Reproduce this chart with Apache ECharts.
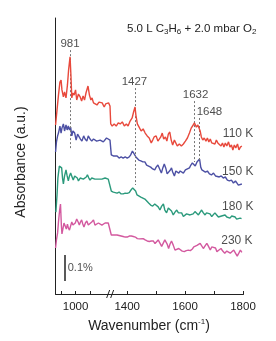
<!DOCTYPE html>
<html><head><meta charset="utf-8">
<script src="https://cdn.jsdelivr.net/npm/echarts@6/dist/echarts.min.js"></script>
<style>html,body{margin:0;padding:0;background:#fff}#c{width:276px;height:341px}</style>
</head><body><div id="c"></div>
<script>
// Wavenumber (cm-1), absorbance (%, offset-stacked)
const spec110K = [[931,0.650],[936,0.708],[941,0.765],[946,0.815],[950,0.823],[953,0.785],[958,0.758],[962,0.777],[967,0.754],[972,0.804],[976,0.862],[981,0.912],[984,0.842],[987,0.754],[991,0.773],[995,0.765],[1000,0.785],[1004,0.746],[1010,0.769],[1016,0.758],[1021,0.742],[1026,0.762],[1031,0.746],[1036,0.773],[1043,0.800],[1048,0.765],[1053,0.746],[1057,0.754],[1062,0.735],[1067,0.742],[1074,0.727],[1081,0.738],[1087,0.731],[1092,0.735],[1099,0.719],[1104,0.731],[1109,0.727],[1114,0.735],[1119,0.723],
[1343,0.654],[1348,0.646],[1355,0.654],[1362,0.646],[1369,0.658],[1376,0.654],[1383,0.662],[1390,0.646],[1397,0.654],[1403,0.646],[1410,0.665],[1417,0.677],[1422,0.700],[1427,0.719],[1430,0.688],[1435,0.654],[1441,0.642],[1448,0.627],[1455,0.635],[1462,0.619],[1469,0.608],[1476,0.600],[1483,0.581],[1488,0.592],[1493,0.604],[1500,0.608],[1506,0.588],[1511,0.581],[1516,0.604],[1521,0.619],[1526,0.596],[1532,0.604],[1537,0.588],[1542,0.615],[1547,0.623],[1552,0.592],[1557,0.573],[1563,0.592],[1568,0.585],[1573,0.569],[1580,0.577],[1587,0.569],[1594,0.577],[1601,0.588],[1608,0.600],[1615,0.619],[1621,0.638],[1628,0.650],[1632,0.658],[1639,0.642],[1644,0.650],[1648,0.654],[1652,0.627],[1656,0.604],[1661,0.592],[1666,0.600],[1672,0.588],[1677,0.600],[1682,0.585],[1687,0.596],[1692,0.581],[1698,0.588],[1703,0.577],[1708,0.592],[1713,0.581],[1718,0.588],[1724,0.569],[1729,0.581],[1734,0.565],[1739,0.581],[1744,0.569],[1750,0.585],[1755,0.565],[1760,0.573],[1765,0.554],[1770,0.573],[1775,0.562],[1781,0.577],[1786,0.554],[1791,0.565],[1796,0.569]];
const spec150K = [[931,0.546],[934,0.585],[938,0.608],[941,0.619],[946,0.646],[950,0.619],[953,0.638],[958,0.654],[962,0.627],[967,0.650],[971,0.631],[975,0.646],[979,0.631],[983,0.642],[987,0.608],[991,0.627],[997,0.619],[1002,0.592],[1007,0.615],[1012,0.619],[1017,0.596],[1022,0.588],[1028,0.608],[1033,0.596],[1039,0.588],[1044,0.608],[1050,0.596],[1056,0.588],[1062,0.596],[1067,0.600],[1073,0.588],[1079,0.585],[1085,0.592],[1091,0.592],[1096,0.585],[1102,0.588],[1107,0.600],[1112,0.604],[1119,0.592],
[1345,0.535],[1352,0.531],[1358,0.527],[1365,0.531],[1372,0.523],[1379,0.527],[1386,0.523],[1393,0.527],[1400,0.523],[1407,0.527],[1412,0.535],[1418,0.550],[1424,0.554],[1430,0.527],[1434,0.523],[1440,0.515],[1447,0.512],[1454,0.508],[1461,0.508],[1467,0.496],[1474,0.492],[1481,0.488],[1488,0.481],[1495,0.477],[1500,0.488],[1506,0.496],[1512,0.481],[1518,0.465],[1523,0.485],[1528,0.500],[1533,0.485],[1538,0.462],[1544,0.465],[1549,0.477],[1553,0.485],[1557,0.469],[1563,0.454],[1568,0.473],[1573,0.477],[1578,0.465],[1583,0.473],[1589,0.469],[1594,0.465],[1601,0.477],[1608,0.481],[1615,0.485],[1620,0.496],[1625,0.504],[1630,0.500],[1635,0.492],[1641,0.508],[1646,0.515],[1650,0.519],[1654,0.488],[1658,0.477],[1663,0.477],[1670,0.469],[1677,0.473],[1684,0.462],[1691,0.458],[1698,0.465],[1705,0.454],[1711,0.458],[1718,0.450],[1725,0.454],[1732,0.446],[1739,0.450],[1746,0.438],[1753,0.435],[1760,0.438],[1767,0.427],[1774,0.435],[1779,0.435],[1784,0.419],[1790,0.415],[1796,0.423]];
const spec180K = [[932,0.315],[936,0.381],[939,0.446],[944,0.492],[948,0.496],[952,0.485],[955,0.446],[958,0.423],[962,0.454],[967,0.477],[971,0.454],[975,0.435],[979,0.454],[983,0.465],[988,0.450],[992,0.438],[997,0.454],[1002,0.458],[1006,0.446],[1010,0.435],[1016,0.446],[1021,0.450],[1027,0.442],[1033,0.438],[1037,0.450],[1041,0.458],[1046,0.446],[1050,0.438],[1056,0.446],[1062,0.450],[1067,0.442],[1073,0.438],[1079,0.442],[1085,0.446],[1091,0.442],[1096,0.438],[1102,0.446],[1108,0.448],[1113,0.442],[1119,0.444],
[1345,0.396],[1352,0.392],[1358,0.394],[1365,0.388],[1372,0.392],[1379,0.385],[1386,0.385],[1393,0.388],[1400,0.387],[1407,0.390],[1413,0.400],[1419,0.408],[1424,0.415],[1429,0.396],[1434,0.381],[1440,0.377],[1447,0.373],[1454,0.369],[1461,0.365],[1467,0.358],[1474,0.350],[1481,0.342],[1488,0.338],[1495,0.346],[1501,0.350],[1507,0.335],[1513,0.323],[1519,0.338],[1525,0.346],[1530,0.323],[1536,0.312],[1542,0.331],[1548,0.338],[1553,0.319],[1559,0.304],[1565,0.315],[1571,0.323],[1577,0.312],[1582,0.308],[1588,0.312],[1594,0.298],[1600,0.304],[1605,0.308],[1611,0.312],[1617,0.304],[1622,0.298],[1628,0.308],[1634,0.317],[1640,0.312],[1646,0.304],[1652,0.315],[1657,0.323],[1663,0.312],[1669,0.304],[1674,0.312],[1680,0.317],[1686,0.308],[1692,0.298],[1698,0.304],[1703,0.312],[1709,0.304],[1715,0.296],[1721,0.292],[1726,0.300],[1732,0.296],[1738,0.304],[1744,0.296],[1749,0.292],[1755,0.292],[1761,0.300],[1767,0.296],[1773,0.296],[1778,0.288],[1784,0.285],[1790,0.292],[1795,0.290]];
const spec230K = [[931,0.177],[934,0.208],[938,0.235],[941,0.277],[945,0.323],[948,0.346],[951,0.265],[953,0.231],[957,0.254],[960,0.273],[964,0.262],[968,0.250],[972,0.269],[975,0.254],[979,0.246],[983,0.262],[987,0.277],[991,0.265],[995,0.258],[999,0.273],[1004,0.288],[1009,0.277],[1013,0.265],[1017,0.277],[1021,0.285],[1025,0.269],[1029,0.258],[1034,0.273],[1039,0.281],[1044,0.265],[1050,0.262],[1056,0.277],[1062,0.285],[1067,0.265],[1073,0.262],[1079,0.273],[1085,0.273],[1091,0.265],[1096,0.262],[1102,0.273],[1108,0.279],[1113,0.273],[1119,0.269],
[1345,0.227],[1352,0.227],[1358,0.223],[1365,0.227],[1372,0.225],[1379,0.223],[1386,0.221],[1393,0.219],[1400,0.219],[1407,0.223],[1414,0.223],[1421,0.221],[1428,0.219],[1435,0.213],[1442,0.212],[1448,0.212],[1455,0.213],[1462,0.208],[1469,0.204],[1476,0.202],[1483,0.204],[1490,0.204],[1496,0.194],[1502,0.190],[1507,0.208],[1512,0.204],[1519,0.183],[1525,0.188],[1530,0.208],[1535,0.212],[1538,0.192],[1543,0.175],[1548,0.192],[1553,0.204],[1559,0.188],[1565,0.169],[1571,0.173],[1578,0.175],[1583,0.169],[1590,0.165],[1597,0.163],[1604,0.167],[1611,0.169],[1618,0.167],[1625,0.173],[1630,0.181],[1635,0.177],[1641,0.187],[1646,0.185],[1652,0.195],[1658,0.188],[1663,0.175],[1669,0.185],[1675,0.195],[1680,0.185],[1687,0.169],[1692,0.181],[1698,0.188],[1705,0.177],[1710,0.163],[1717,0.169],[1724,0.175],[1730,0.165],[1737,0.157],[1744,0.165],[1750,0.169],[1756,0.157],[1762,0.160],[1768,0.169],[1774,0.162],[1780,0.146],[1786,0.158],[1791,0.169],[1796,0.160]];

const peakLines = [[981,0.938,0.554],[1427,0.792,0.419],[1632,0.742,0.508],[1648,0.677,0.508]];
const peakLabels = [[981,0.964,'981'],[1425,0.817,'1427'],[1636,0.767,'1632'],[1684,0.699,'1648']];
const tempLabels = [[1783,0.618,'110 K'],[1782,0.470,'150 K'],[1782,0.336,'180 K'],[1779,0.205,'230 K']];
const scaleBar = [964, 0.05, 0.15, '0.1%'];
const tickValues = [950,1000,1050,1400,1500,1600,1700,1800];
const labelValues = [1000,1400,1600,1800];
const xBreak = {start:1119.5, end:1341, gap:0};

const FONT = 'Liberation Sans, Arial, sans-serif';
const colors = ['#e8493c','#4c50a4','#2b9a7c','#d3599f'];
const chart = echarts.init(document.getElementById('c'), null, {renderer:'canvas'});

const mkLine = (data, c, i) => ({
  type:'line', data, showSymbol:false, symbol:'none', animation:false, silent:true,
  lineStyle:{color:c, width:1.4}, z: 5 - i
});
const series = [spec110K, spec150K, spec180K, spec230K].map((d,i)=>mkLine(d, colors[i], i));
series[0].markLine = {
  silent:true, symbol:['none','none'], animation:false, label:{show:false},
  lineStyle:{type:[2,2], color:'#777', width:1},
  data: peakLines.map(p=>[{coord:[p[0],p[1]]},{coord:[p[0],p[2]]}]).concat([
    [{coord:[scaleBar[0],scaleBar[1]], lineStyle:{type:'solid', color:'#222', width:1.5}},{coord:[scaleBar[0],scaleBar[2]]}]
  ])
};
series.push({
  type:'scatter', symbolSize:0, silent:true, animation:false, clip:false,
  data: peakLabels,
  label:{show:true, position:'inside', formatter:p=>p.value[2], color:'#222', fontSize:11.5, fontFamily:FONT}
});
series.push({
  type:'scatter', symbolSize:0, silent:true, animation:false, clip:false,
  data: tempLabels,
  label:{show:true, position:'inside', formatter:p=>p.value[2], color:'#222', fontSize:12, fontFamily:FONT}
});
series.push({
  type:'scatter', symbolSize:0, silent:true, animation:false, clip:false,
  data: [[scaleBar[0]+9, (scaleBar[1]+scaleBar[2])/2, scaleBar[3]]],
  label:{show:true, position:'inside', align:'left', formatter:p=>p.value[2], color:'#222', fontSize:11, fontFamily:FONT}
});

chart.setOption({
  animation:false,
  backgroundColor:'#fff',
  textStyle:{fontFamily:FONT},
  title:{
    text:'5.0 L C{s|3}H{s|6} + 2.0 mbar O{s|2}', left:122, top:17,
    textStyle:{fontSize:11.5, fontWeight:'normal', color:'#222', fontFamily:FONT, lineHeight:14,
      rich:{s:{fontSize:8, lineHeight:8, verticalAlign:'bottom', color:'#222', fontFamily:FONT}}}
  },
  grid:{left:55, right:33, top:18, bottom:47},
  xAxis:{
    type:'value', min:929, max:1800,
    breaks:[xBreak],
    breakArea:{show:false},
    name:'Wavenumber (cm{sup|-1})', nameLocation:'middle', nameGap:24,
    nameTextStyle:{fontSize:14, color:'#222', fontFamily:FONT, lineHeight:16,
      rich:{sup:{fontSize:8, lineHeight:8, verticalAlign:'top', color:'#222', fontFamily:FONT}}},
    axisLine:{show:true, lineStyle:{color:'#222', width:1}},
    axisTick:{show:true, inside:true, length:3, lineStyle:{color:'#222'}, customValues:tickValues},
    axisLabel:{show:true, color:'#222', fontSize:11.5, margin:7, fontFamily:FONT, customValues:labelValues,
      formatter:v=>String(Math.round(v))},
    splitLine:{show:false}
  },
  yAxis:{
    type:'value', min:0, max:1.0615,
    axisLine:{show:true, lineStyle:{color:'#222', width:1}},
    axisTick:{show:false}, axisLabel:{show:false}, splitLine:{show:false}
  },
  series
});

const bp = chart.convertToPixel({xAxisIndex:0, yAxisIndex:0}, [xBreak.start, 0]);
chart.setOption({
  graphic:[
    {type:'text', id:'yname', x:21, y:162, rotation:Math.PI/2, silent:true,
      style:{text:'Absorbance (a.u.)', fill:'#222', font:'14px ' + FONT, align:'center', verticalAlign:'middle'}},
    {type:'line', id:'b1', silent:true, shape:{x1:bp[0]-3.5, y1:bp[1]+4, x2:bp[0]-0.5, y2:bp[1]-4}, style:{stroke:'#222', lineWidth:1}},
    {type:'line', id:'b2', silent:true, shape:{x1:bp[0]+0.5, y1:bp[1]+4, x2:bp[0]+3.5, y2:bp[1]-4}, style:{stroke:'#222', lineWidth:1}}
  ]
});
</script></body></html>
